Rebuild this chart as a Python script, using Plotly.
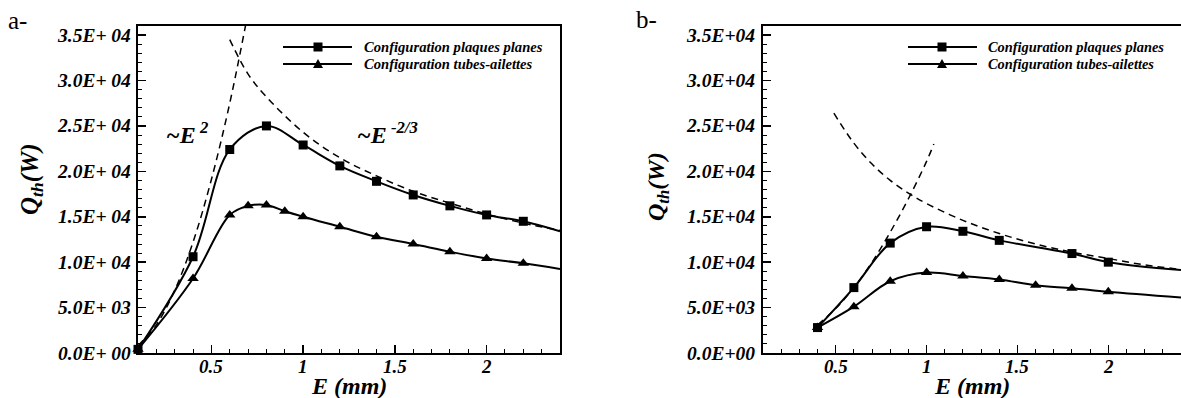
import plotly.graph_objects as go

W, H = 1181, 398

# ---------------- data ----------------
# panel a
E_a_plaques = [0.1, 0.4, 0.6, 0.8, 1.0, 1.2, 1.4, 1.6, 1.8, 2.0, 2.2, 2.4]
Q_a_plaques = [400, 10600, 22400, 25000, 22900, 20600, 18900, 17400, 16200, 15200, 14500, 13400]
E_a_tubes = [0.1, 0.4, 0.6, 0.7, 0.8, 0.9, 1.0, 1.2, 1.4, 1.6, 1.8, 2.0, 2.2, 2.4]
Q_a_tubes = [400, 8200, 15200, 16200, 16300, 15600, 15000, 13900, 12800, 12000, 11150, 10400, 9870, 9250]
E_a_pow2 = [0.1, 0.2, 0.3, 0.4, 0.5, 0.6, 0.7]
Q_a_pow2 = [800, 3100, 6900, 12200, 19100, 27500, 37500]
E_a_powm = [0.6, 0.7, 0.8, 1.0, 1.2, 1.4, 1.6, 1.8, 2.0, 2.2, 2.4]
Q_a_powm = [34500, 30700, 28200, 24300, 21500, 19500, 17800, 16500, 15300, 14300, 13500]

# panel b
E_b_plaques = [0.4, 0.6, 0.8, 1.0, 1.2, 1.4, 1.8, 2.0, 2.4]
Q_b_plaques = [2800, 7200, 12100, 13900, 13400, 12400, 10950, 10000, 9140]
E_b_tubes = [0.4, 0.6, 0.8, 1.0, 1.2, 1.4, 1.6, 1.8, 2.0, 2.4]
Q_b_tubes = [2800, 5100, 7900, 8850, 8480, 8100, 7460, 7130, 6730, 6100]
E_b_pow2 = [0.4, 0.5, 0.6, 0.7, 0.8, 0.9, 1.0, 1.04]
Q_b_pow2 = [3080, 4900, 7200, 9990, 13300, 16980, 21100, 23000]
E_b_powm = [0.49, 0.6, 0.7, 0.8, 0.9, 1.0, 1.2, 1.4, 1.6, 1.8, 2.0, 2.2, 2.4]
Q_b_powm = [26400, 23100, 20800, 19000, 17600, 16450, 14600, 13150, 12000, 11100, 10400, 9700, 9200]

# ticks
X_TICKS = [0.5, 1.0, 1.5, 2.0]
X_TEXT = ["0.5", "1", "1.5", "2"]
Y_TICKS = [0, 5000, 10000, 15000, 20000, 25000, 30000, 35000]
Y_TEXT_A = ["0.0E+ 00", "5.0E+ 03", "1.0E+ 04", "1.5E+ 04", "2.0E+ 04", "2.5E+ 04", "3.0E+ 04", "3.5E+ 04"]
Y_TEXT_B = ["0.0E+00", "5.0E+03", "1.0E+04", "1.5E+04", "2.0E+04", "2.5E+04", "3.0E+04", "3.5E+04"]
SERIES_NAMES = ["Configuration plaques planes", "Configuration tubes-ailettes"]
PANEL_LABELS = ["a-", "b-"]

# ---------------- helpers ----------------
def px(x):
    return x / W

def py(y):
    return 1 - y / H

FONT = "'Liberation Serif', 'Times New Roman', Times, 'DejaVu Serif', serif"
BI = dict(family=FONT, color="black", weight="bold", style="italic")

fig = go.Figure()

def add_panel(xa, ya, Ep, Qp, Et, Qt, E2, Q2, Em, Qm):
    for E, Q in ((E2, Q2), (Em, Qm)):
        fig.add_trace(go.Scatter(x=E, y=Q, mode="lines", xaxis=xa, yaxis=ya,
                                 line=dict(color="black", width=1.5, dash="7px,5px", shape="spline"),
                                 showlegend=False, hoverinfo="skip"))
    for E, Q in ((Ep, Qp), (Et, Qt)):
        fig.add_trace(go.Scatter(x=E, y=Q, mode="lines", xaxis=xa, yaxis=ya,
                                 line=dict(color="black", width=2, shape="spline", smoothing=1),
                                 showlegend=False, hoverinfo="skip"))
    # markers (last value is curve end, no marker)
    fig.add_trace(go.Scatter(x=Ep[:-1], y=Qp[:-1], mode="markers", xaxis=xa, yaxis=ya,
                             marker=dict(symbol="square", size=9, color="black"),
                             cliponaxis=False, showlegend=False, hoverinfo="skip"))
    fig.add_trace(go.Scatter(x=Et[:-1], y=Qt[:-1], mode="markers", xaxis=xa, yaxis=ya,
                             marker=dict(symbol="triangle-up", size=10, color="black"),
                             cliponaxis=False, showlegend=False, hoverinfo="skip"))

add_panel("x", "y", E_a_plaques, Q_a_plaques, E_a_tubes, Q_a_tubes, E_a_pow2, Q_a_pow2, E_a_powm, Q_a_powm)
add_panel("x2", "y2", E_b_plaques, Q_b_plaques, E_b_tubes, Q_b_tubes, E_b_pow2, Q_b_pow2, E_b_powm, Q_b_powm)

ydom = [py(353), py(26)]
xdom_a = [px(138), px(560)]
xdom_b = [px(763), 1.0]

def xaxis(dom, anchor):
    return dict(domain=dom, anchor=anchor, range=[0.1, 2.4], tickmode="array", tickvals=X_TICKS,
                showticklabels=False, automargin=False,
                showline=True, linewidth=2, linecolor="black", mirror=True,
                ticks="inside", ticklen=8, tickwidth=1.5, tickcolor="black",
                minor=dict(tickmode="linear", tick0=0, dtick=0.1, ticks="inside", ticklen=4,
                           tickwidth=1, tickcolor="black", showgrid=False),
                showgrid=False, zeroline=False)

def yaxis(anchor, mirror):
    return dict(domain=ydom, anchor=anchor, range=[0, 36000], tickmode="array",
                tickvals=Y_TICKS, showticklabels=False, automargin=False,
                showline=True, linewidth=2, linecolor="black", mirror=mirror,
                ticks="inside", ticklen=8, tickwidth=1.5, tickcolor="black",
                minor=dict(tickmode="linear", tick0=0, dtick=1000, ticks="inside", ticklen=4,
                           tickwidth=1, tickcolor="black", showgrid=False),
                showgrid=False, zeroline=False)

annotations = []
shapes = []

def ann(x, y, text, size, xanchor="left", yanchor="middle", angle=0, font=None,
        xref="paper", yref="paper"):
    f = dict(size=size, **(font if font is not None else BI))
    annotations.append(dict(x=x, y=y, xref=xref, yref=yref, text=text,
                            showarrow=False, xanchor=xanchor, yanchor=yanchor,
                            textangle=angle, font=f))

# tick labels (placed at the axis values)
for xr, yr, x_right, ytext in (("x", "y", 133, Y_TEXT_A), ("x2", "y2", 757, Y_TEXT_B)):
    for v, t in zip(X_TICKS, X_TEXT):
        ann(v, py(366), t, 19, xanchor="center", xref=xr)
    for v, t in zip(Y_TICKS, ytext):
        ann(px(x_right), v, t, 19.5, xanchor="right", yref=yr)

# axis titles
for cx in (349, 972):
    ann(px(cx), py(386), "E (mm)", 24, xanchor="center")
ann(px(31), py(179), "Q<sub>th</sub>(W)", 25, xanchor="center", angle=-90)
ann(px(658), py(187), "Q<sub>th</sub>(W)", 24, xanchor="center", angle=-90)

# panel labels
REG = dict(family=FONT, color="black")
ann(px(6), py(20), PANEL_LABELS[0], 25, font=REG)
ann(px(634), py(19), PANEL_LABELS[1], 25, font=REG)

# power-law labels
ann(px(164), py(133), "~E<sup> 2</sup>", 24)
ann(px(355), py(133), "~E<sup> -2/3</sup>", 24)

# custom legends
def legend(x0, x1, xm, xt, fs):
    for i, (yy, name) in enumerate(((47, SERIES_NAMES[0]), (64, SERIES_NAMES[1]))):
        shapes.append(dict(type="line", xref="paper", yref="paper", x0=px(x0), x1=px(x1),
                           y0=py(yy), y1=py(yy), line=dict(color="black", width=2)))
        if i == 0:
            s = 4.5
            shapes.append(dict(type="rect", xref="paper", yref="paper", x0=px(xm - s), x1=px(xm + s),
                               y0=py(yy + s), y1=py(yy - s), fillcolor="black", line=dict(width=0)))
        else:
            path = "M {} {} L {} {} L {} {} Z".format(px(xm - 5), py(yy + 4), px(xm + 5), py(yy + 4),
                                                      px(xm), py(yy - 5))
            shapes.append(dict(type="path", xref="paper", yref="paper", path=path,
                               fillcolor="black", line=dict(width=0)))
        ann(px(xt), py(yy), name, fs)

legend(283, 352, 318, 362, 14.6)
legend(908, 977, 942, 986, 14.4)

fig.update_layout(
    width=W, height=H, margin=dict(l=0, r=0, t=0, b=0, autoexpand=False),
    paper_bgcolor="white", plot_bgcolor="white", showlegend=False,
    hovermode=False,
    font=dict(family=FONT),
    xaxis=xaxis(xdom_a, "y"), yaxis=yaxis("x", True),
    xaxis2=xaxis(xdom_b, "y2"), yaxis2=yaxis("x2", False),
    annotations=annotations, shapes=shapes,
)

# remove the default 8px page margin so the figure fills the window exactly
fig.write_html("out.html", config={"displayModeBar": False, "staticPlot": True},
               post_script="document.body.style.margin='0';document.body.style.overflow='hidden';")
